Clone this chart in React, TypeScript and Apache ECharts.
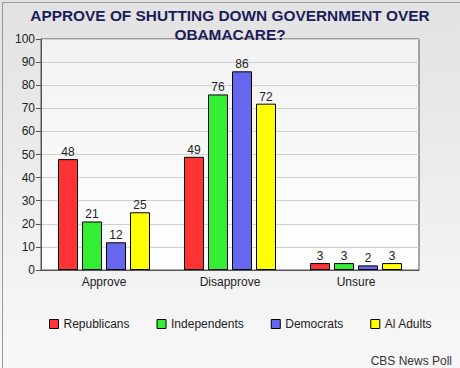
import React, { useEffect, useRef } from "react";
import * as echarts from "echarts";

const categories = ["Approve", "Disapprove", "Unsure"];
const seriesNames = ["Republicans", "Independents", "Democrats", "Al Adults"];
const republicans = [48, 49, 3];
const independents = [21, 76, 3];
const democrats = [12, 86, 2];
const allAdults = [25, 72, 3];
const seriesData = [republicans, independents, democrats, allAdults];
const colors = ["#ff3333", "#33ee33", "#6666ee", "#ffff00"];
const titleText = "APPROVE OF SHUTTING DOWN GOVERNMENT OVER\nOBAMACARE?";
const sourceText = "CBS News Poll";

export default function App() {
  const ref = useRef<HTMLDivElement>(null);
  useEffect(() => {
    if (!ref.current) return;
    const chart = echarts.init(ref.current, null, { renderer: "svg" });
    const font = "'Liberation Sans', Arial, sans-serif";
    chart.setOption({
      animation: false,
      backgroundColor: {
        type: "linear", x: 0, y: 0, x2: 0, y2: 1,
        colorStops: [
          { offset: 0, color: "#e2e2e2" },
          { offset: 1, color: "#f8f8f8" },
        ],
      },
      title: {
        text: titleText,
        left: "center",
        top: 1,
        textStyle: {
          fontFamily: font,
          fontSize: 15.4,
          fontWeight: "bold",
          color: "#1c1c5a",
          lineHeight: 19,
          align: "center",
        },
      },
      legend: {
        data: seriesNames,
        left: 44,
        top: 313,
        itemWidth: 9,
        itemHeight: 9,
        itemGap: 27,
        icon: "rect",
        textStyle: { fontFamily: font, fontSize: 12, color: "#222" },
        itemStyle: { borderColor: "#000", borderWidth: 1 },
      },
      grid: {
        left: 41,
        right: 41,
        top: 39,
        bottom: 98,
        show: true,
        borderColor: "#555",
        borderWidth: 1,
        backgroundColor: {
          type: "linear", x: 0, y: 0, x2: 0, y2: 1,
          colorStops: [
            { offset: 0, color: "#f2f2f2" },
            { offset: 1, color: "#ffffff" },
          ],
        },
      },
      xAxis: {
        type: "category",
        data: categories,
        axisLine: { lineStyle: { color: "#555" } },
        axisTick: { alignWithLabel: true, length: 4, lineStyle: { color: "#333" } },
        axisLabel: { fontFamily: font, fontSize: 12, color: "#222", margin: 6 },
      },
      yAxis: {
        type: "value",
        min: 0,
        max: 100,
        interval: 10,
        axisLine: { show: true, lineStyle: { color: "#555" } },
        axisTick: { show: true, length: 5, lineStyle: { color: "#555" } },
        axisLabel: { fontFamily: font, fontSize: 12, color: "#222", margin: 6 },
        splitLine: { lineStyle: { color: "#cfcfcf" } },
      },
      series: seriesNames.map((name, i) => ({
        name,
        type: "bar",
        data: seriesData[i],
        barWidth: 20,
        barGap: "20%",
        itemStyle: { color: colors[i], borderColor: "#000", borderWidth: 1 },
        label: {
          show: true,
          position: "top",
          distance: 1,
          fontFamily: font,
          fontSize: 12,
          color: "#222",
        },
      })),
      graphic: [
        {
          type: "rect",
          left: 0,
          top: 0,
          shape: { x: 0.5, y: 0.5, width: 459, height: 367 },
          style: { fill: "none", stroke: "#999", lineWidth: 1 },
          silent: true,
        },
        {
          type: "text",
          right: 8,
          top: 355,
          style: { text: sourceText, fontFamily: font, fontSize: 12, fill: "#333" },
        },
      ],
    });
    return () => chart.dispose();
  }, []);
  return (
    <div
      ref={ref}
      style={{ position: "fixed", left: 0, top: 0, width: 460, height: 368 }}
    />
  );
}
